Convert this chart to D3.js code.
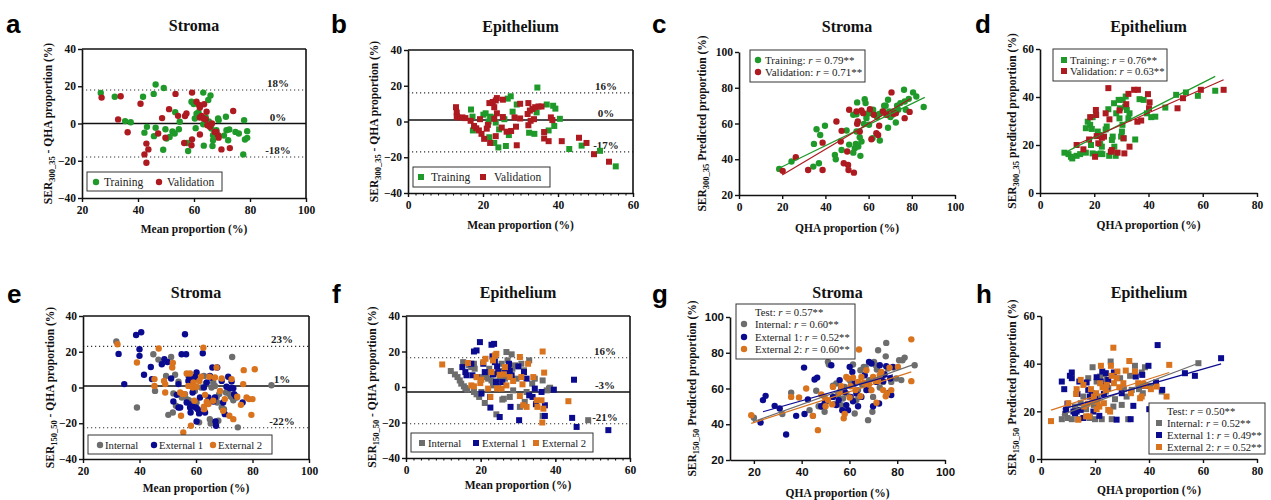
<!DOCTYPE html>
<html>
<head>
<meta charset="utf-8">
<script src="https://cdn.jsdelivr.net/npm/d3@7"></script>
<style>
    body { margin: 0; background: #fff; }
</style>
</head>
<body>
<div id="chart"></div>
<script>

    // ---------- data ----------
    // a : Stroma, SER300_35 Bland-Altman
    var aTrain = [[26.7,16.4],[31.7,14.4],[35.4,1.3],[37.4,0.7],[41.8,14.4],[45.6,15.9],[46.3,20.9],[49.2,19.1],[42.3,-4.9],[43.2,-1.8],[46.3,-2.3],[45.7,-6.8],[49.0,-14.1],[49.8,-3.1],[50.2,-8.1],[51.3,-7.2],[52.3,-4.3],[53.1,-5.4],[53.3,6.1],[54.6,-3.1],[54.9,0.9],[57.5,-10.5],[57.9,-14.8],[59.1,11.7],[59.9,10.5],[60.3,2.7],[60.6,-2.5],[60.9,5.2],[61.6,6.1],[63.3,16.6],[63.3,-0.4],[63.5,-11.9],[64.2,3.2],[65.1,12.6],[65.9,15.0],[65.3,1.1],[66.2,-2.7],[66.8,-6.3],[66.8,-9.0],[66.6,-12.1],[68.0,-3.6],[68.6,2.7],[68.8,1.8],[70.7,-6.5],[71.4,3.6],[71.6,-3.6],[72.6,-3.2],[72.2,-9.0],[74.8,-4.5],[76.0,-5.4],[77.9,1.8],[77.6,-16.6],[78.2,-8.6],[79.0,-7.7],[79.0,-4.1]];
    var aValid = [[27.0,13.9],[33.8,14.6],[32.9,2.2],[36.3,-4.7],[40.9,10.6],[42.3,-16.6],[43.0,-10.8],[43.7,-13.9],[43.0,-21.1],[47.2,-5.4],[48.6,2.9],[49.8,-7.6],[51.1,7.7],[53.4,15.9],[54.3,4.1],[56.5,-10.5],[56.8,4.0],[57.3,5.4],[59.1,-11.7],[59.3,-8.5],[59.3,16.6],[60.9,11.7],[62.1,8.6],[61.8,9.9],[62.1,3.2],[62.7,4.1],[62.1,-5.9],[63.6,10.3],[63.5,2.7],[64.2,2.2],[64.5,6.3],[64.8,-0.9],[65.7,-1.8],[66.4,0],[67.4,-4.5],[68.0,-4.5],[68.6,-6.3],[68.8,-7.6],[69.8,-13.9],[72.8,-13.2],[74.0,6.7]];
    var aRefs = [18, 0, -18];
    var aRefLabels = ["18%", "0%", "-18%"];

    // b : Epithelium, SER300_35 Bland-Altman
    var bTrain = [[16.8,6.7],[17.2,2.7],[17.3,-5],[20.1,3.8],[20.7,4.6],[21.5,0],[21.7,-8.8],[21.9,2.7],[22.6,2.3],[23.0,-12],[23.4,-0.6],[24.1,-14.5],[24.3,-4.4],[25.7,1.3],[26.1,-13.7],[26.6,12.8],[27.4,14.1],[26.9,-7.6],[27.9,5.5],[29.0,9.5],[32.3,-6.3],[33.7,-6.9],[34.3,5.1],[34.5,19.0],[37.0,9.5],[37.5,-5],[38.7,8.8],[39.3,7.2],[39.0,-2.5],[40.5,1.5],[43.0,-15.4],[46.3,-13.5],[51.2,-16.4],[55.4,-25.1]];
    var bValid = [[12.8,8.0],[13.0,5.0],[13.0,3.0],[13.2,2.3],[14.5,2.3],[15.3,1.9],[16.7,0.4],[17.6,-2.5],[18.2,-3.8],[18.9,-5],[19.2,1.3],[19.6,-6.9],[20.3,-9.7],[21.0,-4.0],[21.3,-1.9],[21.7,10.3],[21.9,-12],[22.6,10.9],[23.0,8.0],[23.0,1.5],[23.4,11.8],[23.7,13.1],[23.4,-8.2],[23.7,4.6],[25.0,-3.4],[25.3,12.2],[25.3,2.5],[26.3,-5.7],[27.5,-5.3],[28.4,2.3],[28.8,-2.9],[29.0,-13.3],[29.9,9.9],[29.9,1.7],[32.1,10.3],[31.9,4.2],[32.1,-2.1],[32.5,6.1],[32.7,0.4],[33.2,7.0],[33.6,1.3],[33.9,8.0],[34.8,8.4],[35.6,8.4],[36.3,-9.5],[36.3,-5.9],[37.5,-11],[38.1,2.3],[38.5,0.8],[41.0,-11],[45.6,-9.1],[47.6,-12],[49.6,-18.3],[53.6,-22.5]];
    var bRefs = [16, 0.8, -17];
    var bRefLabels = ["16%", "0%", "-17%"];

    // c : Stroma, SER300_35 predicted vs QHA
    var cTrain = [[18.6,34.6],[24.3,38.7],[34.4,35.9],[34.7,48.6],[35.9,56.8],[37.0,37.8],[37.6,53.6],[39.8,58.7],[44.4,42.4],[44.8,40.0],[47.5,45.2],[49.8,56.1],[51.0,48.2],[52.9,64.9],[52.9,43.7],[53.6,46.2],[54.1,48.6],[54.4,55.5],[54.4,65.2],[54.7,71.8],[55.2,47.1],[55.9,52.3],[56.2,41.9],[56.7,49.9],[57.8,59.8],[58.2,73.6],[58.6,71.4],[59.0,64.9],[59.0,63.0],[59.8,65.8],[60.2,59.3],[60.9,65.8],[61.8,51.8],[62.1,67.7],[62.9,64.9],[63.9,63.6],[64.9,65.4],[65.2,50.5],[66.4,66.7],[67.2,69.9],[67.9,69.9],[68.3,64.9],[69.0,57.6],[69.0,73.3],[69.5,66.7],[70.1,63.6],[71.0,64.9],[71.3,66.7],[72.6,60.6],[73.2,69.9],[73.7,67.7],[74.7,71.4],[76.4,78.9],[76.7,72.3],[77.2,67.7],[78.6,73.8],[80.6,77.4],[82.1,75.1],[85.5,69.2]];
    var cValid = [[20.2,33.5],[26.3,41.1],[32.0,34.0],[38.7,49.3],[38.7,34.0],[45.1,61.1],[47.1,49.9],[47.5,55.9],[48.5,37.8],[50.1,44.3],[50.5,36.8],[50.7,34.0],[51.0,67.7],[53.2,32.5],[54.4,66.7],[54.7,59.8],[55.0,61.1],[55.9,55.5],[56.7,67.3],[57.5,65.8],[60.6,68.0],[61.3,51.2],[62.4,64.9],[63.6,54.6],[64.4,53.6],[64.9,58.7],[66.7,66.7],[68.3,64.9],[70.6,77.4],[71.6,65.4],[72.6,65.8],[76.7,63.0],[79.0,66.5]];
    var cFitTrain = [[19, 35.2], [86, 74.6]];
    var cFitValid = [[20, 31.2], [79.5, 74.0]];

    // d : Epithelium, SER300_35 predicted vs QHA
    var dTrain = [[9.0,16.8],[10.5,16.2],[11.4,15.1],[11.9,14.4],[13.5,15.5],[14.8,16.2],[16.9,16.8],[16.9,27.0],[17.6,29.7],[18.5,28.4],[18.8,20.0],[19.1,26.7],[19.4,16.5],[19.4,31.6],[20.9,16.2],[21.3,25.6],[21.9,24.2],[22.2,20.4],[22.4,16.5],[22.8,19.3],[23.0,16.2],[24.2,26.5],[24.6,27.7],[25.2,34.9],[25.5,15.5],[26.5,22.1],[26.8,23.5],[27.3,37.4],[27.4,19.3],[27.9,15.5],[28.1,33.2],[29.0,38.8],[29.3,31.1],[29.5,35.3],[29.9,23.5],[30.2,25.6],[30.4,28.4],[30.5,38.8],[30.8,22.8],[31.4,36.0],[31.6,40.2],[32.0,34.6],[32.6,31.1],[33.0,33.2],[35.1,22.3],[36.7,39.1],[38.2,38.8],[39.4,33.2],[41.0,31.6],[42.5,31.8],[46.2,35.6],[50.2,40.9],[53.8,41.9],[58.2,40.5],[64.6,42.6]];
    var dValid = [[13.5,20.0],[16.0,18.2],[18.1,22.3],[18.5,31.6],[20.3,15.1],[20.6,34.6],[20.7,32.5],[20.9,23.7],[21.5,20.7],[22.8,23.0],[23.6,23.5],[24.2,33.2],[25.2,43.7],[25.6,30.7],[26.1,17.2],[26.5,17.9],[28.6,16.8],[29.3,34.4],[30.8,22.8],[31.1,16.5],[31.8,37.0],[32.6,41.3],[33.0,19.3],[34.7,43.0],[36.1,43.0],[35.9,29.7],[37.3,30.2],[39.8,41.2],[40.2,35.3],[40.4,37.8],[50.7,35.3],[52.7,39.5],[59.3,43.0],[67.7,43.0]];
    var dFitTrain = [[8.6, 16.5], [64.6, 48.6]];
    var dFitValid = [[13.5, 20.2], [67.7, 47.2]];

    // e : Stroma, SER150_50 Bland-Altman
    var eInt = [[31.8,25.7],[39.1,-11.2],[44.9,18.6],[45.5,-1.9],[46.7,15.6],[49.4,6.5],[50.2,-15.3],[51.2,17.1],[51.8,-14.0],[52.0,-3.3],[52.6,7.1],[52.9,-10.2],[53.8,3.3],[55.0,-5.6],[56.1,-3.7],[56.7,-6.5],[57.3,6.5],[57.5,-7.1],[57.9,-9.3],[58.5,2.2],[59.6,-1.9],[60.0,-10.2],[60.2,-8.4],[61.1,-19.5],[61.8,0],[62.8,6.5],[63.5,2.2],[64.4,-8.4],[64.9,-17.7],[65.2,-20.1],[65.5,0],[66.1,2.8],[66.7,0.9],[67.3,-5.6],[67.5,-8.4],[67.9,-18.6],[68.2,-3.7],[69.1,-11.2],[69.9,-12.1],[70.6,-2.8],[71.8,-3.7],[72.4,-5.2],[72.8,17.1],[73.2,-7.1],[74.4,-5.6],[74.8,-22.3],[86.7,1.3]];
    var eExt1 = [[32.6,18.8],[34.6,1.9],[38.8,29.4],[40.6,30.9],[40.0,21.4],[40.0,17.7],[41.6,7.1],[44.0,11.5],[44.4,4.7],[47.9,13.0],[48.8,15.8],[49.9,14.3],[51.2,5.0],[52.0,-7.8],[53.2,-4.1],[53.8,1.9],[53.8,-11.2],[54.4,-11.2],[54.9,18.6],[56.1,29.8],[56.5,18.6],[56.7,-8.4],[57.3,3.7],[57.6,6.0],[57.9,-11.2],[58.1,-14.0],[58.5,-9.3],[58.8,-2.8],[59.1,4.1],[59.6,6.0],[59.9,-11.2],[60.2,8.4],[60.6,-12.1],[61.1,-14.5],[60.2,-19.0],[61.4,-5.6],[62.4,19.2],[62.8,0],[63.2,-14.0],[63.8,2.8],[64.4,-5.6],[64.9,6.5],[65.2,5.6],[65.8,11.2],[66.1,-7.8],[66.7,-5.6],[66.9,-19.0],[67.1,-21.4],[67.5,11.2],[69.1,3.7],[69.6,-8.4],[70.2,-14.9],[70.8,0.4],[71.4,6.0],[72.0,-0.4],[72.6,3.3],[73.2,-0.4],[73.5,-3.7],[74.0,-4.7],[76.5,-8.4]];
    var eExt2 = [[32.2,24.2],[39.1,14.0],[45.3,4.7],[45.3,0.9],[46.8,21.8],[48.7,3.7],[49.1,1.9],[49.1,-2.8],[51.6,11.2],[51.8,13.8],[54.4,-2.8],[54.7,-15.8],[55.2,-3.7],[55.5,-25.1],[55.9,-3.7],[56.7,7.8],[57.3,0.9],[57.9,7.8],[58.2,-21.4],[58.8,0],[59.1,2.8],[59.4,-7.4],[60.2,0.4],[61.2,3.7],[61.8,6.0],[62.6,22.3],[62.8,-10.8],[62.9,-12.1],[63.2,-4.1],[63.8,-8.0],[64.4,-9.3],[64.7,6.0],[66.1,-7.4],[66.7,5.6],[67.3,11.2],[68.5,-1.9],[69.1,5.0],[69.6,-13.0],[70.2,-6.5],[71.8,-15.8],[72.6,4.7],[73.2,-17.7],[74.6,-5.2],[75.9,-9.7],[76.7,1.9],[76.9,9.7],[77.9,-5.6],[78.8,-6.5],[79.6,-15.3],[80.0,-6.5],[80.8,10.2]];
    var eRefs = [23, 0.8, -22.5];
    var eRefLabels = ["23%", "1%", "-22%"];

    // f : Epithelium, SER150_50 Bland-Altman
    var fInt = [[12.0,9.0],[13.1,7.1],[13.8,5.6],[14.4,3.7],[14.8,1.9],[15.5,0.4],[15.9,-0.6],[16.4,-1.5],[15.3,14.0],[16.9,12.2],[17.5,11.2],[18.2,13.1],[18.4,10.3],[18.2,-2.8],[18.9,-4.1],[19.6,-5.6],[20.2,-2.8],[20.7,5.6],[21.1,-9.0],[21.6,7.5],[22.0,4.7],[22.3,10.3],[22.9,3.7],[23.2,17.2],[23.3,0.9],[23.8,16.9],[24.0,7.5],[24.2,-15.4],[24.5,3.2],[24.7,0.4],[25.1,5.6],[25.6,13.1],[25.8,-7.1],[26.0,9.0],[26.2,-6.6],[26.5,4.7],[26.9,19.7],[27.2,15.0],[27.5,8.4],[27.8,-5.6],[28.3,18.4],[28.5,10.3],[28.7,-1.9],[29.2,12.2],[29.6,4.7],[30.5,-11.2],[30.9,13.1],[31.6,9.4],[31.8,-8.4],[32.3,-2.8],[33.0,15.0],[33.8,1.9],[34.5,4.7],[36.6,3.7],[36.6,-16.3],[37.7,-1.9],[38.3,-0.9],[38.6,-0.4],[48.8,-18.7]];
    var fExt1 = [[15.1,11.2],[15.9,8.4],[16.2,6.6],[17.5,13.1],[17.8,6.6],[18.2,20.0],[18.9,20.6],[19.8,25.3],[19.1,5.6],[20.2,-3.7],[20.7,13.1],[21.1,8.4],[22.5,-5.6],[22.6,-11.6],[22.9,23.8],[23.2,17.2],[23.3,7.1],[23.6,24.3],[23.8,14.0],[24.1,2.8],[24.4,11.6],[24.7,8.4],[25.1,-16.9],[25.8,2.8],[26.5,10.3],[27.4,10.9],[27.6,13.1],[27.8,9.0],[28.0,-11.2],[28.3,6.6],[30.1,11.6],[30.3,-18.7],[31.6,8.4],[32.3,4.7],[33.0,-4.7],[33.9,-5.6],[34.5,-0.9],[34.8,-9.7],[36.3,-2.8],[37.2,-10.3],[37.2,-16.3],[39.6,-1.5],[45.0,4.1],[44.5,-17.4],[45.7,-22.5],[54.2,-24.3]];
    var fExt2 = [[9.7,12.7],[16.6,13.5],[17.5,0.9],[18.2,0.4],[18.9,5.6],[19.9,2.2],[20.2,4.1],[20.7,14.0],[21.3,15.9],[22.0,-0.9],[22.6,-5.6],[22.9,8.4],[23.3,15.0],[23.8,17.8],[24.2,18.7],[24.4,-0.9],[25.1,6.9],[25.6,-0.9],[26.2,7.1],[26.5,11.2],[26.9,0.9],[27.8,5.6],[28.7,3.4],[30.5,16.9],[30.5,-5.1],[30.9,5.6],[31.2,1.5],[31.4,-10.3],[32.3,-11.2],[32.7,13.1],[34.1,5.6],[35.0,-7.5],[35.2,-11.2],[36.3,-7.5],[36.5,-20.0],[36.6,20.0],[36.8,-12.2],[37.0,8.1],[43.5,-8.0]];
    var fRefs = [16.5, -2.8, -20.7];
    var fRefLabels = ["16%", "-3%", "-21%"];

    // g : Stroma, SER150_50 predicted vs QHA
    var gInt = [[20.0,43.6],[31.9,45.7],[35.6,57.6],[43.3,47.9],[44.7,44.7],[46.1,58.7],[47.1,50.1],[48.2,49.8],[49.6,47.0],[50.3,52.6],[51.0,74.9],[51.4,73.4],[53.1,61.5],[53.8,51.3],[54.5,62.8],[55.2,56.3],[56.6,50.7],[57.3,54.4],[58.0,60.9],[58.7,57.2],[60.1,64.7],[60.8,62.8],[61.5,73.4],[62.2,46.0],[62.9,53.5],[63.6,59.1],[64.6,70.2],[65.4,61.9],[66.0,72.1],[66.8,72.1],[67.5,59.4],[67.8,42.3],[68.2,64.7],[68.9,59.1],[69.6,47.0],[69.9,55.3],[70.3,74.9],[71.0,73.0],[71.5,70.6],[72.0,81.4],[72.7,60.6],[73.4,66.9],[74.1,63.7],[75.2,78.0],[75.4,85.5],[76.1,71.2],[77.5,63.7],[78.5,71.7],[79.6,65.6],[80.8,75.8],[81.7,64.7],[82.2,75.8],[83.1,77.3],[87.3,73.0]];
    var gExt1 = [[22.8,41.0],[23.8,53.5],[24.9,55.9],[28.7,50.3],[30.8,48.8],[33.5,34.3],[37.7,44.7],[41.0,71.7],[41.2,45.7],[42.6,53.9],[45.4,65.0],[46.5,66.1],[48.2,50.1],[49.6,51.6],[52.4,73.0],[53.1,55.3],[54.5,50.7],[55.5,53.5],[55.9,64.7],[56.6,60.9],[57.0,47.9],[58.0,58.1],[58.7,50.7],[59.4,47.9],[60.1,72.1],[60.5,55.3],[61.2,69.3],[61.5,52.9],[62.2,62.8],[62.9,57.2],[63.6,50.1],[65.0,55.3],[66.4,67.4],[67.1,59.1],[68.2,74.9],[69.2,74.0],[69.9,50.1],[71.3,63.7],[72.4,51.6],[72.7,73.0],[74.1,64.1],[74.7,68.0],[75.4,72.5],[76.6,57.6],[77.1,65.6],[77.5,56.3],[78.2,72.1]];
    var gExt2 = [[18.9,45.1],[35.6,55.3],[38.9,55.0],[41.9,60.0],[44.7,44.7],[46.8,36.7],[48.2,56.7],[49.6,55.3],[50.0,50.1],[51.0,53.5],[52.8,51.1],[53.1,60.9],[55.9,58.1],[56.6,61.3],[57.6,43.3],[58.0,45.7],[58.7,66.5],[59.4,65.6],[60.1,55.0],[60.5,61.3],[61.5,66.1],[62.6,59.1],[63.6,63.7],[64.0,81.8],[64.6,55.7],[65.0,66.5],[66.0,63.2],[67.1,70.2],[68.2,62.2],[69.2,59.1],[69.9,66.5],[70.6,64.7],[71.3,52.0],[72.0,64.1],[72.7,67.4],[73.4,69.3],[74.1,59.1],[75.2,55.7],[75.7,57.2],[76.8,71.7],[77.5,59.1],[80.3,72.1],[85.9,87.5],[85.9,64.1]];
    var gFitInt = [[19.6, 41.4], [87.3, 73.6]];
    var gFitExt1 = [[23.8, 47.0], [78.2, 67.6]];
    var gFitExt2 = [[18.9, 40.5], [85.9, 69.3]];

    // h : Epithelium, SER150_50 predicted vs QHA
    var hInt = [[7.7,16.7],[8.9,19.0],[9.8,17.2],[11.4,16.7],[12.6,22.0],[13.8,16.7],[14.7,23.4],[15.7,26.2],[16.7,20.9],[17.5,33.9],[18.1,17.2],[19.1,38.5],[19.6,22.7],[20.0,16.7],[20.6,32.5],[21.0,26.2],[21.9,34.6],[22.5,16.7],[23.1,30.7],[23.3,35.7],[24.0,28.3],[24.3,33.2],[24.9,29.7],[25.8,40.9],[26.2,16.7],[26.8,22.0],[27.4,25.1],[29.3,33.9],[29.9,22.7],[30.7,29.3],[31.7,26.2],[32.3,16.7],[33.0,34.9],[33.6,29.0],[34.8,39.1],[36.3,29.3],[37.3,36.3],[37.7,27.6],[38.5,38.5],[40.4,30.7],[44.7,28.3],[58.3,40.2]];
    var hExt1 = [[7.7,32.5],[8.6,29.3],[9.3,20.6],[9.8,23.2],[10.7,34.9],[11.4,36.3],[11.4,33.9],[12.0,19.9],[12.6,19.2],[13.2,19.9],[13.5,27.3],[14.2,32.5],[14.7,20.6],[15.7,17.2],[16.9,32.1],[17.5,29.0],[18.1,26.2],[18.8,27.6],[19.4,19.9],[20.0,26.2],[20.6,34.3],[21.6,18.1],[22.1,32.5],[22.7,36.7],[23.3,27.3],[24.0,36.0],[24.3,30.4],[24.9,33.2],[27.0,36.3],[28.0,16.5],[29.9,27.6],[33.2,16.7],[34.2,22.3],[35.1,34.6],[37.5,35.3],[38.5,30.7],[39.8,39.1],[40.1,20.9],[42.6,32.1],[43.2,47.8],[44.9,29.0],[53.3,36.0],[57.0,34.9],[66.7,42.3]];
    var hExt2 = [[3.7,15.9],[10.1,23.4],[13.0,27.3],[13.2,29.3],[13.8,16.5],[14.7,33.2],[15.7,31.1],[16.0,22.0],[16.7,17.9],[17.3,23.2],[17.9,17.9],[18.5,29.3],[19.1,24.1],[19.6,26.2],[20.4,27.6],[20.6,20.9],[21.0,24.1],[21.6,22.0],[21.9,31.8],[22.2,39.1],[22.8,30.1],[23.3,23.4],[24.0,29.0],[24.3,31.1],[24.9,20.6],[25.6,19.9],[25.9,39.1],[26.2,34.9],[26.8,46.7],[27.0,31.8],[28.0,33.9],[28.3,36.7],[29.0,30.1],[30.5,31.8],[31.4,37.1],[32.7,41.1],[33.3,27.6],[34.8,36.7],[36.0,31.8],[36.7,25.5],[37.3,26.2],[37.9,31.5],[38.5,30.7],[40.7,29.3],[42.8,30.4],[46.5,26.2],[47.5,39.5]];
    var hFitInt = [[7.7, 18.5], [58.3, 40.2]];
    var hFitExt1 = [[8.0, 20.9], [66.7, 39.9]];
    var hFitExt2 = [[3.7, 20.5], [47.5, 36.3]];

    // tick values
    var ticksBA = [-40, -20, 0, 20, 40];
    var ticks20to100 = [20, 40, 60, 80, 100];
    var ticks0to60 = [0, 20, 40, 60];
    var ticks0to80 = [0, 20, 40, 60, 80];
    var ticks0to100 = [0, 20, 40, 60, 80, 100];

    // colours
    var cGreen = "#1f9a2a", cRed = "#ad1a20", cGray = "#6d6d6d", cBlue = "#0b0b8f", cOrange = "#d9731e";

    var serif = "'Liberation Serif', 'DejaVu Serif', serif";
    var sans = "'Liberation Sans', 'DejaVu Sans', sans-serif";

    var svg = d3.select("#chart")
        .append("svg")
        .attr("width", 1271)
        .attr("height", 500)
        .style("font-family", serif);

    function drawMarker(g, shape, color, px, py) {
        if (shape == "circle") {
            g.append("circle").attr("cx", px).attr("cy", py).attr("r", 3.2).attr("fill", color);
        } else {
            g.append("rect").attr("x", px - 3).attr("y", py - 3).attr("width", 6).attr("height", 6).attr("fill", color);
        }
    }

    // text with italic parts marked by |...|
    function richText(g, x, y, str, size) {
        var t = g.append("text").attr("x", x).attr("y", y)
            .style("font-family", serif)
            .style("font-size", size + "px").attr("fill", "#222");
        str.split("|").forEach(function (s, i) {
            t.append("tspan").text(s).style("font-style", i % 2 ? "italic" : "normal");
        });
        return t;
    }

    function label(g, x, y, str, size, anchor) {
        return g.append("text").attr("x", x).attr("y", y).text(str)
            .attr("text-anchor", anchor || "middle")
            .style("font-family", serif).style("font-weight", "bold")
            .style("font-size", size + "px").attr("fill", "#111");
    }

    function panel(p) {
        var x = d3.scaleLinear().domain(p.xd).range(p.xr);
        var y = d3.scaleLinear().domain(p.yd).range(p.yr);
        var g = svg.append("g");

        // panel letter + title
        g.append("text").attr("x", p.letter[1]).attr("y", p.letter[2]).text(p.letter[0])
            .style("font-family", sans).style("font-weight", "bold").style("font-size", "26px");
        label(g, (p.xr[0] + p.xr[1]) / 2, p.titleY, p.title, 16);

        // reference lines (Bland-Altman)
        (p.refs || []).forEach(function (v, i) {
            g.append("line").attr("x1", p.xr[0]).attr("x2", p.xr[1]).attr("y1", y(v)).attr("y2", y(v))
                .attr("stroke", i == 1 ? "#111" : "#333")
                .attr("stroke-width", i == 1 ? 1.6 : 1.1)
                .attr("stroke-dasharray", i == 1 ? null : "1.2,2.8");
            label(g, p.refX, y(v) - 3, p.refLabels[i], 11).attr("fill", "#222");
        });

        // points
        var pts = g.append("g");
        p.series.forEach(function (s) {
            s.data.forEach(function (d) { drawMarker(pts, p.shape, s.color, x(d[0]), y(d[1])); });
        });
        // fit lines
        (p.fits || []).forEach(function (f) {
            g.append("line").attr("x1", x(f.d[0][0])).attr("y1", y(f.d[0][1]))
                .attr("x2", x(f.d[1][0])).attr("y2", y(f.d[1][1]))
                .attr("stroke", f.color).attr("stroke-width", 1.2);
        });

        // axes
        var tf = p.tickFont || serif;
        var xa = g.append("g").attr("transform", "translate(0," + p.yr[0] + ")")
            .call(d3.axisBottom(x).tickValues(p.xt).tickSize(4).tickSizeOuter(0).tickPadding(4));
        var ya = g.append("g").attr("transform", "translate(" + p.xr[0] + ",0)")
            .call(d3.axisLeft(y).tickValues(p.yt).tickSize(4).tickSizeOuter(0).tickPadding(2));
        [xa, ya].forEach(function (a) {
            a.attr("font-family", null);
            a.select(".domain").attr("stroke", "#111").attr("stroke-width", 1.6);
            a.selectAll(".tick line").attr("stroke", "#111").attr("stroke-width", 1.4);
            a.selectAll("text").style("font-family", tf).style("font-weight", "bold")
                .style("font-size", (p.tickSize || 11.5) + "px").attr("fill", "#111");
        });
        if (p.minorX) {
            g.append("g").attr("transform", "translate(0," + p.yr[0] + ")")
                .call(d3.axisBottom(x).tickValues(d3.range(p.xd[0], p.xd[1] + 0.1, 2)).tickSize(2.5).tickFormat(""))
                .call(function (a) {
                    a.select(".domain").remove();
                    a.selectAll("line").attr("stroke", "#111").attr("stroke-width", 1.1);
                });
        }
        if (p.box) {
            g.append("line").attr("x1", p.xr[0]).attr("x2", p.xr[1]).attr("y1", p.yr[1]).attr("y2", p.yr[1])
                .attr("stroke", "#111").attr("stroke-width", 1.6);
            g.append("line").attr("x1", p.xr[1]).attr("x2", p.xr[1]).attr("y1", p.yr[0]).attr("y2", p.yr[1])
                .attr("stroke", "#111").attr("stroke-width", 1.6);
        }

        // axis titles
        label(g, (p.xr[0] + p.xr[1]) / 2, p.xTitleY, p.xTitle, 11.5);
        var yt = label(g, 0, 0, "", 11.5)
            .attr("x", null).attr("y", null)
            .attr("transform", "translate(" + p.yTitleX + "," + ((p.yr[0] + p.yr[1]) / 2) + ") rotate(-90)");
        yt.append("tspan").text("SER");
        yt.append("tspan").text(p.ySub).attr("dy", 3).style("font-size", "8.5px");
        yt.append("tspan").text(p.yRest).attr("dy", -3);

        // legend
        var L = p.legend;
        g.append("rect").attr("x", L.box[0]).attr("y", L.box[1]).attr("width", L.box[2] - L.box[0]).attr("height", L.box[3] - L.box[1])
            .attr("fill", "#fff").attr("stroke", "#333").attr("stroke-width", 1);
        L.items.forEach(function (it) {
            if (it.color) drawMarker(g, p.shape, it.color, it.mx, it.my);
            richText(g, it.tx, it.my + 3.5, it.text, L.size);
        });
    }

    // ---------- panels ----------
    panel({
        letter: ["a", 6, 33], title: "Stroma", titleY: 31,
        xd: [20, 100], xr: [82, 306], yd: [-40, 40], yr: [198, 49],
        xt: ticks20to100, yt: ticksBA, box: true, shape: "circle",
        refs: aRefs, refLabels: aRefLabels, refX: 278,
        series: [{ data: aTrain, color: cGreen }, { data: aValid, color: cRed }],
        xTitle: "Mean proportion (%)", xTitleY: 233, yTitleX: 52, ySub: "300_35", yRest: " - QHA proportion (%)",
        legend: {
            box: [87, 172, 222, 191], size: 11.5, items: [
                { color: cGreen, mx: 96, my: 182, tx: 104, text: "Training" },
                { color: cRed, mx: 159, my: 182, tx: 167, text: "Validation" }]
        }
    });

    panel({
        letter: ["b", 331, 33], title: "Epithelium", titleY: 32,
        xd: [0, 60], xr: [408, 633], yd: [-40, 40], yr: [193, 50],
        xt: ticks0to60, yt: ticksBA, box: true, minorX: true, shape: "square",
        refs: bRefs, refLabels: bRefLabels, refX: 606,
        series: [{ data: bTrain, color: cGreen }, { data: bValid, color: cRed }],
        xTitle: "Mean proportion (%)", xTitleY: 229, yTitleX: 378, ySub: "300_35", yRest: " - QHA proportion (%)",
        legend: {
            box: [413, 167, 550, 187], size: 11.5, items: [
                { color: cGreen, mx: 421, my: 177, tx: 431, text: "Training" },
                { color: cRed, mx: 483, my: 177, tx: 494, text: "Validation" }]
        }
    });

    panel({
        letter: ["c", 652, 33], title: "Stroma", titleY: 32,
        xd: [0, 100], xr: [739, 955], yd: [20, 100], yr: [195, 52],
        xt: ticks0to100, yt: ticks20to100, shape: "circle",
        series: [{ data: cTrain, color: cGreen }, { data: cValid, color: cRed }],
        fits: [{ d: cFitTrain, color: cGreen }, { d: cFitValid, color: cRed }],
        xTitle: "QHA proportion (%)", xTitleY: 232, yTitleX: 706, ySub: "300_35", yRest: " Predicted proportion (%)",
        legend: {
            box: [750, 50, 865, 82], size: 11, items: [
                { color: cGreen, mx: 758, my: 60, tx: 765, text: "Training: |r| = 0.79**" },
                { color: cRed, mx: 758, my: 72, tx: 765, text: "Validation:  |r| = 0.71**" }]
        }
    });

    panel({
        letter: ["d", 975, 33], title: "Epithelium", titleY: 32,
        xd: [0, 80], xr: [1040, 1257], yd: [0, 60], yr: [193, 49],
        xt: ticks0to80, yt: ticks0to60, shape: "square",
        series: [{ data: dTrain, color: cGreen }, { data: dValid, color: cRed }],
        fits: [{ d: dFitTrain, color: cGreen }, { d: dFitValid, color: cRed }],
        xTitle: "QHA proportion (%)", xTitleY: 229, yTitleX: 1016, ySub: "300_35", yRest: " predicted proportion (%)",
        legend: {
            box: [1053, 49, 1167, 81], size: 10.7, items: [
                { color: cGreen, mx: 1064, my: 60, tx: 1070, text: "Training: |r| = 0.76**" },
                { color: cRed, mx: 1064, my: 71, tx: 1070, text: "Validation: |r| = 0.63**" }]
        }
    });

    panel({
        letter: ["e", 7, 303], title: "Stroma", titleY: 298,
        xd: [20, 100], xr: [83, 309], yd: [-40, 40], yr: [459, 316],
        xt: ticks20to100, yt: ticksBA, box: true, shape: "circle",
        refs: eRefs, refLabels: eRefLabels, refX: 282,
        series: [{ data: eInt, color: cGray }, { data: eExt1, color: cBlue }, { data: eExt2, color: cOrange }],
        xTitle: "Mean proportion (%)", xTitleY: 492, yTitleX: 54, ySub: "150_50", yRest: " - QHA proportion (%)",
        legend: {
            box: [88, 435, 272, 454], size: 10.7, items: [
                { color: cGray, mx: 100, my: 445, tx: 105, text: "Internal" },
                { color: cBlue, mx: 154, my: 445, tx: 159, text: "External 1" },
                { color: cOrange, mx: 213, my: 445, tx: 218, text: "External 2" }]
        }
    });

    panel({
        letter: ["f", 332, 303], title: "Epithelium", titleY: 298,
        xd: [0, 60], xr: [406, 630], yd: [-40, 40], yr: [458, 316],
        xt: ticks0to60, yt: ticksBA, box: true, minorX: true, shape: "square",
        refs: fRefs, refLabels: fRefLabels, refX: 605,
        series: [{ data: fInt, color: cGray }, { data: fExt1, color: cBlue }, { data: fExt2, color: cOrange }],
        xTitle: "Mean proportion (%)", xTitleY: 489, yTitleX: 376, ySub: "150_50", yRest: " - QHA proportion (%)",
        legend: {
            box: [411, 433, 593, 452], size: 10.7, items: [
                { color: cGray, mx: 422, my: 443, tx: 428, text: "Internal" },
                { color: cBlue, mx: 476, my: 443, tx: 482, text: "External 1" },
                { color: cOrange, mx: 536, my: 443, tx: 542, text: "External 2" }]
        }
    });

    panel({
        letter: ["g", 652, 303], title: "Stroma", titleY: 298,
        xd: [10, 100], xr: [730, 945], yd: [20, 100], yr: [460, 317],
        xt: ticks20to100, yt: ticks20to100, shape: "circle", tickFont: sans, tickSize: 11.5,
        series: [{ data: gInt, color: cGray }, { data: gExt1, color: cBlue }, { data: gExt2, color: cOrange }],
        fits: [{ d: gFitInt, color: cGray }, { d: gFitExt1, color: cBlue }, { d: gFitExt2, color: cOrange }],
        xTitle: "QHA proportion (%)", xTitleY: 497, yTitleX: 696, ySub: "150_50", yRest: " Predicted proportion (%)",
        legend: {
            box: [736, 304, 855, 359], size: 10.7, items: [
                { color: null, mx: 744, my: 312, tx: 755, text: "Test: |r| = 0.57**" },
                { color: cGray, mx: 744, my: 324, tx: 755, text: "Internal: |r| = 0.60**" },
                { color: cBlue, mx: 744, my: 337, tx: 755, text: "External 1: |r| = 0.52**" },
                { color: cOrange, mx: 744, my: 349, tx: 755, text: "External 2: |r| = 0.60**" }]
        }
    });

    panel({
        letter: ["h", 976, 303], title: "Epithelium", titleY: 298,
        xd: [0, 80], xr: [1041, 1257], yd: [0, 60], yr: [459, 316],
        xt: ticks0to80, yt: ticks0to60, shape: "square",
        series: [{ data: hInt, color: cGray }, { data: hExt1, color: cBlue }, { data: hExt2, color: cOrange }],
        fits: [{ d: hFitInt, color: cGray }, { d: hFitExt1, color: cBlue }, { d: hFitExt2, color: cOrange }],
        xTitle: "QHA proportion (%)", xTitleY: 494, yTitleX: 1016, ySub: "150_50", yRest: " Predicted proportion (%)",
        legend: {
            box: [1149, 403, 1265, 454], size: 10.7, items: [
                { color: null, mx: 1159, my: 411, tx: 1167, text: "Test: |r| = 0.50**" },
                { color: cGray, mx: 1159, my: 423, tx: 1167, text: "Internal: |r| = 0.52**" },
                { color: cBlue, mx: 1159, my: 435, tx: 1167, text: "External 1: |r| = 0.49**" },
                { color: cOrange, mx: 1159, my: 447, tx: 1167, text: "External 2: |r| = 0.52**" }]
        }
    });

</script>
</body>
</html>
